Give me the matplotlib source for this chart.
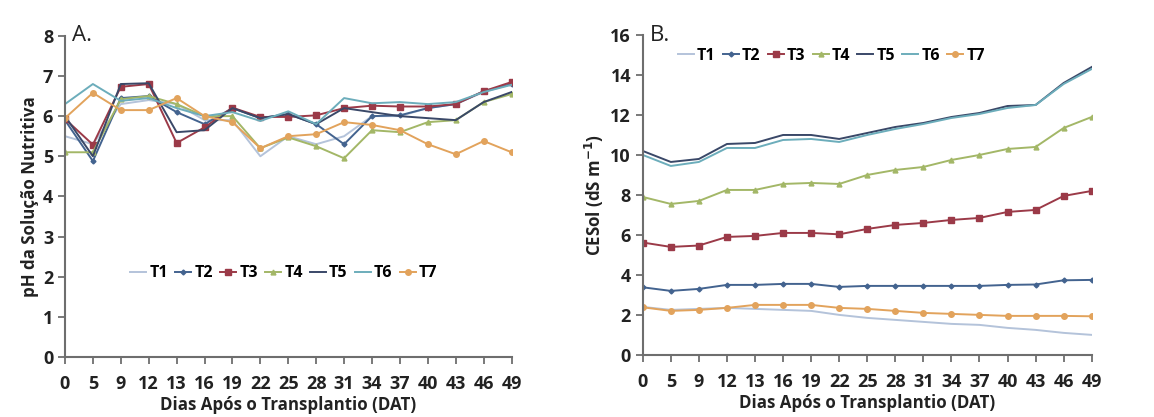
import matplotlib
matplotlib.use("Agg")
import matplotlib.pyplot as plt
import numpy as np

plt.rcParams["font.family"] = ["Open Sans", "DejaVu Sans"]
plt.rcParams["font.weight"] = "bold"
plt.rcParams["axes.unicode_minus"] = False

# sampling days (categorical axis)
dat = ["0", "5", "9", "12", "13", "16", "19", "22", "25", "28", "31", "34",
       "37", "40", "43", "46", "49"]
treatments = ["T1", "T2", "T3", "T4", "T5", "T6", "T7"]

# pH of the nutrient solution
ph_t1 = [5.5, 5.3, 6.3, 6.4, 6.3, 5.9, 5.9, 5.0, 5.5, 5.3, 5.5, 6.0, 6.0, 6.2, 6.3, 6.6, 6.8]
ph_t2 = [5.9, 4.88, 6.45, 6.5, 6.1, 5.8, 6.2, 5.95, 6.05, 5.8, 5.3, 6.0, 6.02, 6.2, 6.3, 6.62, 6.8]
ph_t3 = [5.93, 5.29, 6.73, 6.8, 5.33, 5.72, 6.21, 5.98, 5.98, 6.02, 6.2, 6.26, 6.24, 6.24, 6.3, 6.62, 6.85]
ph_t4 = [5.1, 5.1, 6.42, 6.5, 6.3, 6.0, 6.0, 5.2, 5.47, 5.25, 4.95, 5.65, 5.6, 5.85, 5.9, 6.35, 6.55]
ph_t5 = [6.0, 5.0, 6.8, 6.82, 5.6, 5.65, 6.2, 5.95, 6.05, 5.8, 6.2, 6.1, 6.0, 5.95, 5.9, 6.35, 6.6]
ph_t6 = [6.3, 6.8, 6.38, 6.45, 6.2, 6.0, 6.1, 5.88, 6.12, 5.8, 6.45, 6.32, 6.35, 6.3, 6.35, 6.6, 6.78]
ph_t7 = [5.95, 6.58, 6.15, 6.15, 6.45, 6.0, 5.85, 5.2, 5.5, 5.55, 5.85, 5.78, 5.65, 5.3, 5.05, 5.38, 5.1]

# electrical conductivity of the solution (dS m-1)
ce_t1 = [2.4, 2.25, 2.3, 2.35, 2.3, 2.25, 2.2, 2.0, 1.85, 1.75, 1.65, 1.55, 1.5, 1.35, 1.25, 1.1, 1.0]
ce_t2 = [3.38, 3.2, 3.3, 3.5, 3.5, 3.55, 3.55, 3.4, 3.45, 3.45, 3.45, 3.45, 3.45, 3.5, 3.52, 3.73, 3.75]
ce_t3 = [5.62, 5.4, 5.47, 5.9, 5.95, 6.1, 6.1, 6.03, 6.3, 6.5, 6.6, 6.75, 6.85, 7.15, 7.25, 7.95, 8.2]
ce_t4 = [7.9, 7.55, 7.7, 8.25, 8.25, 8.55, 8.6, 8.55, 9.0, 9.25, 9.4, 9.75, 10.0, 10.3, 10.4, 11.35, 11.9]
ce_t5 = [10.2, 9.65, 9.8, 10.55, 10.6, 11.0, 11.0, 10.8, 11.1, 11.4, 11.6, 11.9, 12.1, 12.45, 12.5, 13.6, 14.4]
ce_t6 = [10.0, 9.45, 9.65, 10.35, 10.35, 10.75, 10.8, 10.65, 11.0, 11.3, 11.55, 11.85, 12.05, 12.35, 12.5, 13.55, 14.3]
ce_t7 = [2.38, 2.2, 2.25, 2.35, 2.5, 2.5, 2.5, 2.35, 2.3, 2.2, 2.1, 2.05, 2.0, 1.95, 1.95, 1.95, 1.93]

ph_series = [ph_t1, ph_t2, ph_t3, ph_t4, ph_t5, ph_t6, ph_t7]
ce_series = [ce_t1, ce_t2, ce_t3, ce_t4, ce_t5, ce_t6, ce_t7]

colors = ["#b4c3da", "#43638f", "#9b3a48", "#a3b767", "#3a4868", "#6cadbb", "#e2a35c"]
markers = [None, "D", "s", "^", None, None, "o"]
msizes = [0, 2.5, 4.5, 3.5, 0, 0, 4]

fig = plt.figure(figsize=(11.54, 4.17), dpi=100)
ax_a = fig.add_axes([0.0563, 0.144, 0.387, 0.770])
ax_b = fig.add_axes([0.557, 0.149, 0.389, 0.767])

x = np.arange(len(dat))


def style_axis(ax, ylim, yticks, ylabel):
    ax.set_xlim(0, len(dat) - 1)
    ax.set_ylim(*ylim)
    ax.set_yticks(yticks)
    ax.set_xticks(x)
    ax.set_xticklabels(dat)
    for side in ("top", "right"):
        ax.spines[side].set_visible(False)
    for side in ("left", "bottom"):
        ax.spines[side].set_color("#6e6e6e")
        ax.spines[side].set_linewidth(1.5)
    ax.tick_params(axis="both", direction="out", length=5, width=1.3,
                   color="#6e6e6e", labelsize=13, labelcolor="#222222")
    ax.tick_params(axis="x", pad=8)
    ax.set_xlabel("Dias Após o Transplantio (DAT)", fontsize=12.2,
                  fontweight="bold", color="#222222", labelpad=2)
    ax.set_ylabel(ylabel, fontsize=12.2, fontweight="bold", color="#222222",
                  labelpad=3)


for vals, name, c, m, ms in zip(ph_series, treatments, colors, markers, msizes):
    ax_a.plot(x, vals, color=c, marker=m, markersize=ms, linewidth=1.4, label=name)
for vals, name, c, m, ms in zip(ce_series, treatments, colors, markers, msizes):
    ax_b.plot(x, vals, color=c, marker=m, markersize=ms, linewidth=1.4, label=name)

style_axis(ax_a, (0, 8), range(0, 9), "pH da Solução Nutritiva")
style_axis(ax_b, (0, 16), range(0, 17, 2), "CESol (dS m$^{-1}$)")

ax_a.text(0.25, 8.0, "A.", fontsize=16, fontweight="normal", color="#222222", va="center")
ax_b.text(0.25, 16.0, "B.", fontsize=16, fontweight="normal", color="#222222", va="center")

leg_kw = dict(ncol=7, frameon=False, fontsize=11.5, handlelength=1.0,
              handletextpad=0.2, columnspacing=0.45)
ax_a.legend(loc="center", bbox_to_anchor=(0.49, 0.26), **leg_kw)
ax_b.legend(loc="center", bbox_to_anchor=(0.42, 0.935), **leg_kw)

fig.savefig("out.png", dpi=100)
